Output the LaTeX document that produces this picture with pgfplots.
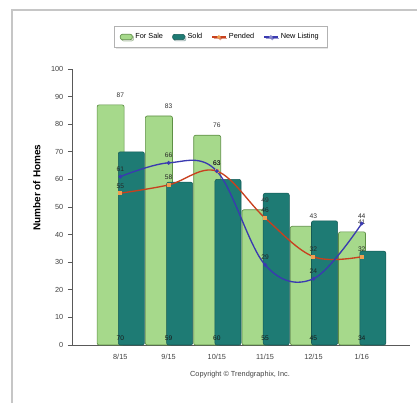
\documentclass[border=0pt]{standalone}
\usepackage{pgfplots}
\pgfplotsset{compat=1.18}
\usetikzlibrary{shadows}
\usepackage{fontspec}
\setmainfont{Liberation Sans}
\definecolor{forsale}{HTML}{A6D98B}
\definecolor{forsaleedge}{HTML}{5E8F45}
\definecolor{sold}{HTML}{1E7B74}
\definecolor{soldedge}{HTML}{145A55}
\definecolor{pending}{HTML}{C8401E}
\definecolor{pendmark}{HTML}{F0A050}
\definecolor{newlist}{HTML}{3A3AB0}
\begin{document}
\begin{tikzpicture}
\path[use as bounding box] (0pt,0pt) rectangle (312.75pt,302.25pt);
\draw[gray!45, line width=1pt] (9pt,0pt) -- (9pt,294.75pt) -- (312.75pt,294.75pt);
\begin{axis}[
  at={(54pt,43.5pt)}, anchor=south west,
  scale only axis, width=253.5pt, height=207pt,
  xmin=-1, xmax=6, ymin=0, ymax=100,
  axis x line=bottom, axis y line=left,
  axis line style={-, gray!70!black, line width=0.5pt},
  xtick={0,1,2,3,4,5},
  xticklabels={8/15,9/15,10/15,11/15,12/15,1/16},
  ytick={0,10,...,100},
  tick style={gray!70!black, line width=0.5pt},
  xtick style={draw=none},
  tick align=outside, major tick length=3pt,
  tick label style={font=\fontsize{5.5}{6}\selectfont, text=black!75},
  /pgf/number format/assume math mode=true,
  ylabel={\textbf{Number of Homes}},
  ylabel style={font=\fontsize{7.5}{8}\selectfont, at={(axis description cs:-0.104,0.57)}, anchor=center},
  xlabel={Copyright \textcopyright\ Trendgraphix, Inc.},
  xlabel style={font=\fontsize{5.5}{6}\selectfont, text=black!75, at={(axis description cs:0.497,-0.109)}, anchor=center},
  legend style={at={(axis description cs:0.44,1.116)}, anchor=center, legend columns=4,
    font=\fontsize{5.5}{6}\selectfont, draw=gray!60, fill=white,
    drop shadow={shadow xshift=1pt, shadow yshift=-1pt, fill=gray!40},
    /tikz/every even column/.append style={column sep=5pt},
    inner xsep=4pt, inner ysep=3pt},
  legend image code/.code={\draw[#1] (0pt,-2pt) rectangle (9pt,2pt);},
  clip=false,
]
\addplot[ybar, bar width=0.56, bar shift=-0.2, fill=forsale, draw=forsaleedge, line width=0.5pt, rounded corners=1.5pt,
  nodes near coords, every node near coord/.append style={font=\fontsize{5}{5}\selectfont, text=black!80, yshift=2pt}]
  coordinates {(0,87) (1,83) (2,76) (3,49) (4,43) (5,41)};
\addlegendentry{For Sale}
\addplot[ybar, bar width=0.54, bar shift=0.23, fill=sold, draw=soldedge, line width=0.4pt, rounded corners=1.5pt]
  coordinates {(0,70) (1,59) (2,60) (3,55) (4,45) (5,34)};
\addlegendentry{Sold}
\addplot[pending, line width=1pt, smooth, tension=0.6, mark=square*, mark size=1pt,
  mark options={fill=pendmark, draw=pendmark},
  nodes near coords, every node near coord/.append style={font=\fontsize{5}{5}\selectfont, text=black!85, anchor=south, yshift=0pt},
  legend image code/.code={\draw[pending, line width=1pt] (0pt,0pt) -- (10pt,0pt); \fill[pendmark] (5pt,0pt) circle (0.8pt);}]
  coordinates {(0,55) (1,58) (2,63) (3,46) (4,32) (5,32)};
\addlegendentry{Pended}
\addplot[newlist, line width=1pt, smooth, tension=0.6, mark=*, mark size=0.9pt,
  mark options={fill=newlist!70, draw=newlist},
  nodes near coords, every node near coord/.append style={font=\fontsize{5}{5}\selectfont, text=black!85, anchor=south, yshift=0pt},
  legend image code/.code={\draw[newlist, line width=1pt] (0pt,0pt) -- (10pt,0pt); \fill[newlist!60] (5pt,0pt) circle (0.8pt);}]
  coordinates {(0,61) (1,66) (2,63) (3,29) (4,24) (5,44)};
\addlegendentry{New Listing}
\addplot[draw=none, mark=none, nodes near coords, point meta=explicit symbolic,
  every node near coord/.append style={font=\fontsize{5}{5}\selectfont, text=black!90, anchor=center}, forget plot]
  coordinates {(0,2.5)[70] (1,2.5)[59] (2,2.5)[60] (3,2.5)[55] (4,2.5)[45] (5,2.5)[34]};
\end{axis}
\end{tikzpicture}
\end{document}
